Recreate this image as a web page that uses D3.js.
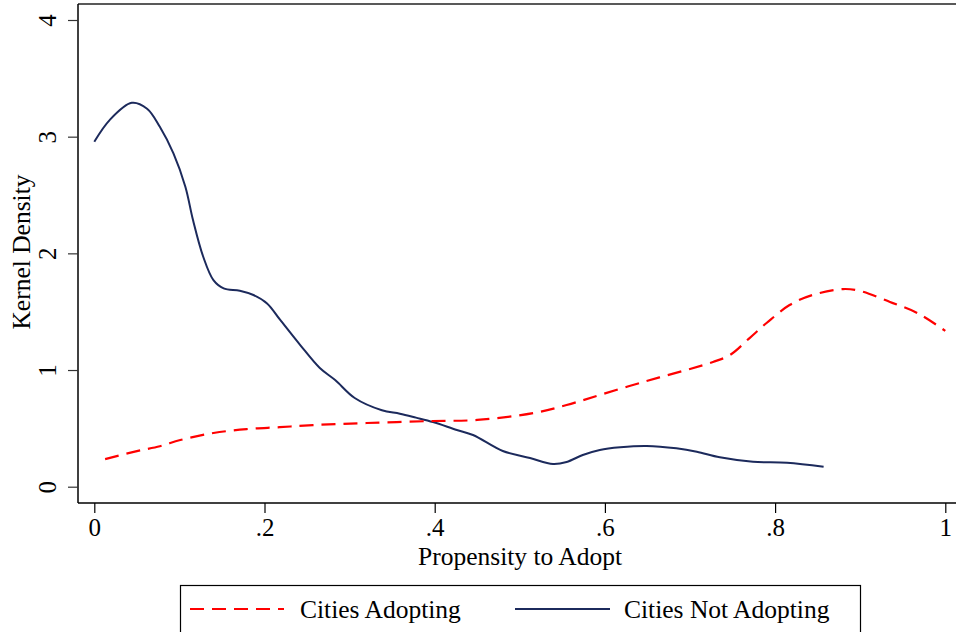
<!DOCTYPE html>
<html><head><meta charset="utf-8">
<script src="https://cdn.jsdelivr.net/npm/d3@7"></script>
<style>
html,body{margin:0;padding:0;background:#fff;}
text{font-family:"Liberation Serif","Times New Roman",serif;fill:#000;}
</style></head>
<body>
<svg id="chart" width="956" height="632"></svg>
<script>
// Data
const adoptX = [0.0127,0.050,0.077,0.101,0.140,0.179,0.218,0.257,0.320,0.398,0.450,0.516,0.555,0.594,0.649,0.700,0.727,0.747,0.770,0.790,0.817,0.844,0.880,0.900,0.935,0.967,1.0];
const adoptY = [0.236,0.305,0.347,0.400,0.460,0.494,0.510,0.528,0.546,0.563,0.572,0.631,0.700,0.786,0.906,1.009,1.069,1.129,1.274,1.403,1.557,1.643,1.694,1.677,1.583,1.489,1.335];
const notAdoptX = [0.0,0.018,0.044,0.062,0.077,0.093,0.107,0.116,0.128,0.140,0.152,0.171,0.187,0.203,0.218,0.242,0.265,0.283,0.306,0.338,0.359,0.378,0.398,0.426,0.445,0.480,0.512,0.539,0.555,0.574,0.594,0.618,0.649,0.684,0.708,0.735,0.774,0.814,0.857];
const notAdoptY = [2.956,3.142,3.290,3.240,3.085,2.857,2.571,2.285,1.971,1.771,1.700,1.680,1.643,1.571,1.434,1.214,1.017,0.914,0.760,0.655,0.626,0.592,0.554,0.486,0.443,0.306,0.246,0.195,0.212,0.272,0.315,0.338,0.349,0.329,0.300,0.252,0.214,0.206,0.171];
const xTicks = [0,0.2,0.4,0.6,0.8,1];
const xTickLabels = ["0",".2",".4",".6",".8","1"];
const yTicks = [0,1,2,3,4];
const yTickLabels = ["0","1","2","3","4"];
const seriesNames = ["Cities Adopting","Cities Not Adopting"];
const seriesColors = ["#ff0000","#1c2a5c"];

const svg = d3.select("#chart");
const x = d3.scaleLinear().domain([0,1]).range([94.3,945.3]);
const y = d3.scaleLinear().domain([0,4]).range([486.7,20]);
const axLeft = 78, axBottom = 503, axTop = 4, axRight = 956;

// frame lines
svg.append("line").attr("x1",axLeft).attr("x2",axRight).attr("y1",axTop).attr("y2",axTop).attr("stroke","#222").attr("stroke-width",1.5);
svg.append("line").attr("x1",axLeft).attr("x2",axLeft).attr("y1",axTop).attr("y2",axBottom).attr("stroke","#000").attr("stroke-width",1.5);
svg.append("line").attr("x1",axLeft).attr("x2",axRight).attr("y1",axBottom).attr("y2",axBottom).attr("stroke","#000").attr("stroke-width",1.5);

// x axis
const xAxis = d3.axisBottom(x).tickValues(xTicks).tickFormat((d,i)=>xTickLabels[i]).tickSize(10).tickPadding(8);
const gx = svg.append("g").attr("transform",`translate(0,${axBottom})`).call(xAxis);
gx.select(".domain").remove();
gx.selectAll(".tick line").attr("stroke","#000").attr("stroke-width",1.2);
gx.selectAll(".tick text").attr("font-size",25).attr("font-family","Liberation Serif").attr("fill","#000")
  .attr("dy",null).attr("y",33);

// y axis
const yAxis = d3.axisLeft(y).tickValues(yTicks).tickFormat((d,i)=>yTickLabels[i]).tickSize(10);
const gy = svg.append("g").attr("transform",`translate(${axLeft},0)`).call(yAxis);
gy.select(".domain").remove();
gy.selectAll(".tick line").attr("stroke","#333").attr("stroke-width",1.2);
gy.selectAll(".tick text").attr("font-size",25).attr("font-family","Liberation Serif").attr("fill","#000")
  .attr("x",null).attr("dy",null).attr("text-anchor","middle")
  .attr("transform","translate(-22,0) rotate(-90)");

// axis titles
svg.append("text").attr("x",520).attr("y",565).attr("text-anchor","middle").attr("font-size",25.5).text("Propensity to Adopt");
svg.append("text").attr("transform","translate(30,252) rotate(-90)").attr("text-anchor","middle").attr("font-size",25.5).text("Kernel Density");

// lines
const line = d3.line().x(d=>x(d[0])).y(d=>y(d[1])).curve(d3.curveCatmullRom.alpha(0.5));
const adopt = adoptX.map((v,i)=>[v,adoptY[i]]);
const notAdopt = notAdoptX.map((v,i)=>[v,notAdoptY[i]]);
svg.append("path").datum(notAdopt).attr("d",line).attr("fill","none").attr("stroke",seriesColors[1]).attr("stroke-width",2);
svg.append("path").datum(adopt).attr("d",line).attr("fill","none").attr("stroke",seriesColors[0]).attr("stroke-width",2.2).attr("stroke-dasharray","14,8");

// legend
svg.append("rect").attr("x",180.5).attr("y",585.5).attr("width",680).attr("height",70).attr("fill","none").attr("stroke","#000").attr("stroke-width",1.2);
const legItems = [
  {x1:190,x2:284,tx:300,dash:"14,8"},
  {x1:515,x2:610,tx:624,dash:null}
];
legItems.forEach((it,i)=>{
  const l = svg.append("line").attr("x1",it.x1).attr("x2",it.x2).attr("y1",609).attr("y2",609)
    .attr("stroke",seriesColors[i]).attr("stroke-width",2);
  if(it.dash) l.attr("stroke-dasharray",it.dash);
  svg.append("text").attr("x",it.tx).attr("y",618).attr("font-size",25.5).text(seriesNames[i]);
});
</script>
</body></html>
